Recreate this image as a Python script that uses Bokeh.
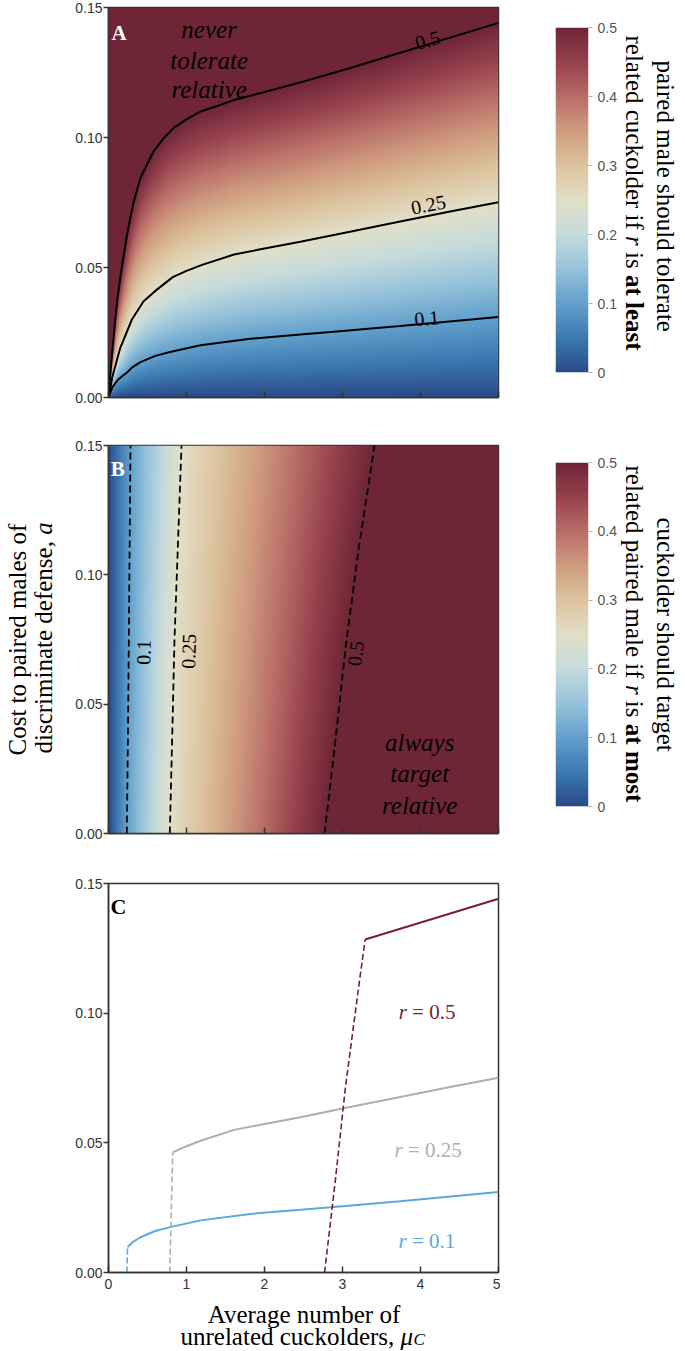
import numpy as np
from bokeh.plotting import figure
from bokeh.layouts import row, column
from bokeh.models import Range1d, LinearColorMapper, FixedTicker, NumeralTickFormatter
from bokeh.core.properties import value
from bokeh.embed import file_html
from bokeh.resources import INLINE

# ---------------- data ----------------
X_TICKS = [0, 1, 2, 3, 4, 5]
Y_TICKS = [0.0, 0.05, 0.10, 0.15]
CB_TICKS = [0, 0.1, 0.2, 0.3, 0.4, 0.5]
LEVELS = [0.1, 0.25, 0.5]

# Panel A: cost a on each contour (r = 0.1, 0.25, 0.5) against mu
A_MU_R01 = [0, 0.05, 0.12, 0.244, 0.3, 0.41, 0.6, 0.79, 1.18, 1.82, 2.46, 2.85, 3.74, 5.0]
A_A_R01 = [0, 0.004, 0.0068, 0.0098, 0.0115, 0.0136, 0.016, 0.0175, 0.0201, 0.0226, 0.0242, 0.0252, 0.0275, 0.031]
A_MU_R025 = [0, 0.05, 0.15, 0.3, 0.45, 0.6, 0.824, 1.0, 1.2, 1.61, 2.0, 2.46, 3.0, 3.74, 4.38, 5.0]
A_A_R025 = [0, 0.008, 0.019, 0.03, 0.037, 0.041, 0.0463, 0.0487, 0.051, 0.055, 0.0573, 0.0599, 0.0632, 0.0677, 0.0715, 0.0751]
A_MU_R05 = [0, 0.02, 0.05, 0.08, 0.11, 0.16, 0.24, 0.32, 0.41, 0.5, 0.58, 0.7, 0.84, 1.0, 1.18,
            1.4, 1.6, 2.0, 2.46, 3.1, 3.74, 4.38, 5.0]
A_A_R05 = [0, 0.008, 0.018, 0.028, 0.037, 0.048, 0.063, 0.075, 0.0845, 0.090, 0.0948, 0.0995, 0.1038, 0.107, 0.110,
           0.1122, 0.1143, 0.1175, 0.1212, 0.1267, 0.1326, 0.1384, 0.1441]

# Panel B: mu on each contour against a
B_A_R01 = [0, 0.046, 0.15]
B_MU_R01 = [0.235, 0.252, 0.282]
B_A_R025 = [0, 0.0463, 0.075, 0.15]
B_MU_R025 = [0.786, 0.824, 0.846, 0.936]
B_A_R05 = [0, 0.036, 0.072, 0.1107, 0.15]
B_MU_R05 = [2.77, 2.91, 3.04, 3.21, 3.41]

# Panel C lines
C_R01_SOLID_MU = [0.244, 0.3, 0.41, 0.6, 0.79, 1.18, 1.82, 2.46, 2.85, 3.74, 5.0]
C_R01_SOLID_A = [0.0098, 0.0115, 0.0136, 0.016, 0.0175, 0.0201, 0.0226, 0.0242, 0.0252, 0.0275, 0.031]
C_R01_DASH_MU = [0.235, 0.244]
C_R01_DASH_A = [0.0, 0.0098]
C_R025_SOLID_MU = [0.824, 1.0, 1.2, 1.61, 2.0, 2.46, 3.0, 3.74, 4.38, 5.0]
C_R025_SOLID_A = [0.0463, 0.0487, 0.051, 0.055, 0.0573, 0.0599, 0.0632, 0.0677, 0.0715, 0.0751]
C_R025_DASH_MU = [0.785, 0.824]
C_R025_DASH_A = [0.0, 0.0463]
C_R05_SOLID_MU = [3.29, 5.0]
C_R05_SOLID_A = [0.1284, 0.1441]
C_R05_DASH_MU = [2.77, 2.91, 3.04, 3.21, 3.29]
C_R05_DASH_A = [0.0, 0.036, 0.072, 0.1107, 0.1284]

# ---------------- styles ----------------
SERIF = "Liberation Serif"
SANS = "Liberation Sans"
AXC = "#333333"
CMAP_STOPS = [0, .05, .1, .15, .2, .25, .3, .35, .4, .45, .5]
CMAP_COLORS = ["#2a4a86", "#3d7ab3", "#62a0cc", "#96c3da", "#c5dbdc", "#e2dfc8",
               "#dcc39e", "#cf9c80", "#b86d67", "#97414e", "#6e2637"]
RED, GRAY, BLUE = "#7b1e30", "#b4aca5", "#5ea9d7"


def build_palette(n=256):
    rgb = np.array([[int(c[i:i + 2], 16) for i in (1, 3, 5)] for c in CMAP_COLORS], float)
    cols = []
    for v in np.linspace(0, 0.5, n):
        r, g, b = (np.interp(v, CMAP_STOPS, rgb[:, k]) for k in range(3))
        cols.append("#%02x%02x%02x" % (int(round(r)), int(round(g)), int(round(b))))
    return cols


mapper = LinearColorMapper(palette=build_palette(), low=0, high=0.5)

# colour fields rendered from the contour readings
N = 390
mu_c = (np.arange(N) + 0.5) * 5 / N
a_c = (np.arange(N) + 0.5) * 0.15 / N
fieldA = np.empty((N, N))
for i, m in enumerate(mu_c):
    a1 = np.interp(m, A_MU_R01, A_A_R01)
    a2 = np.interp(m, A_MU_R025, A_A_R025)
    a3 = np.interp(m, A_MU_R05, A_A_R05)
    fieldA[:, i] = np.interp(a_c, [0, a1, a2, a3], [0] + LEVELS)
fieldB = np.empty((N, N))
for j, a in enumerate(a_c):
    m1 = np.interp(a, B_A_R01, B_MU_R01)
    m2 = np.interp(a, B_A_R025, B_MU_R025)
    m3 = np.interp(a, B_A_R05, B_MU_R05)
    fieldB[j, :] = np.interp(mu_c, [0, m1, m2, m3], [0] + LEVELS)
CB_GRAD = np.linspace(0, 0.5, 256).reshape(256, 1)


def txt(p, x, y, s, size, style="normal", color="black", align="left",
        baseline="alphabetic", angle=0.0, font=SERIF, x_off=0):
    p.text(x=[x], y=[y], text=[s], text_font=value(font), text_font_size=value(size),
           text_font_style=style, text_color=color, text_align=align,
           text_baseline=baseline, angle=angle, x_offset=x_off)


def main_fig(width, height, bl, bt, bb, xlabels):
    p = figure(width=width, height=height, x_range=Range1d(0, 5), y_range=Range1d(0, 0.15),
               output_backend="svg", toolbar_location=None, title=None, frame_align=False,
               min_border_left=bl, min_border_right=2, min_border_top=bt, min_border_bottom=bb)
    p.grid.visible = False
    p.outline_line_color = AXC
    p.outline_line_width = 1.5
    xa = p.xaxis[0]
    xa.ticker = FixedTicker(ticks=X_TICKS)
    xa.major_tick_in = 6
    xa.major_tick_out = 0
    xa.minor_tick_line_color = None
    xa.axis_line_color = AXC
    xa.axis_line_width = 1.5
    xa.major_tick_line_color = AXC
    xa.major_tick_line_width = 1.5
    xa.major_label_text_font = SANS
    xa.major_label_text_font_size = "14px"
    if xlabels:
        xa.major_label_text_color = AXC
        xa.major_label_standoff = 6
    else:
        xa.major_label_text_color = None
        xa.major_label_standoff = 0
    ya = p.yaxis[0]
    ya.ticker = FixedTicker(ticks=Y_TICKS)
    ya.formatter = NumeralTickFormatter(format="0.00")
    ya.major_tick_in = 0
    ya.major_tick_out = 5
    ya.minor_tick_line_color = None
    ya.axis_line_color = AXC
    ya.axis_line_width = 1.5
    ya.major_tick_line_color = AXC
    ya.major_tick_line_width = 1.5
    ya.major_label_text_font = SANS
    ya.major_label_text_font_size = "14px"
    ya.major_label_text_color = AXC
    ya.major_label_standoff = 1
    return p


def cb_fig(height, bt, frame_h):
    p = figure(width=119, height=height, x_range=Range1d(0, 1), y_range=Range1d(0, 0.5),
               output_backend="svg", toolbar_location=None, title=None, frame_align=False,
               y_axis_location="right", x_axis_type=None, min_border_left=55,
               min_border_right=30, min_border_top=bt, min_border_bottom=height - bt - frame_h)
    p.grid.visible = False
    p.outline_line_color = None
    p.image(image=[CB_GRAD], x=0, y=0, dw=1, dh=0.5, color_mapper=mapper)
    ya = p.yaxis[0]
    ya.ticker = FixedTicker(ticks=CB_TICKS)
    ya.major_label_overrides = {0: "0"}
    ya.axis_line_color = None
    ya.major_tick_in = 0
    ya.major_tick_out = 4
    ya.major_tick_line_color = "#b0b0b0"
    ya.minor_tick_line_color = None
    ya.major_label_text_font = SANS
    ya.major_label_text_font_size = "14px"
    ya.major_label_text_color = "#555555"
    ya.major_label_standoff = 5
    return p


def blank_fig(width, height, x0, y_top):
    # data units = page pixels (y negated), frame fills the whole figure
    p = figure(width=width, height=height, x_range=Range1d(x0, x0 + width),
               y_range=Range1d(-(y_top + height), -y_top), output_backend="svg",
               toolbar_location=None, title=None, frame_align=False,
               x_axis_type=None, y_axis_type=None,
               min_border=0, min_border_left=0, min_border_right=0,
               min_border_top=0, min_border_bottom=0)
    p.grid.visible = False
    p.outline_line_color = None
    return p


# ---------------- Row A (page y 0..420) ----------------
pA = main_fig(500, 420, 108, 7, 23, False)
pA.image(image=[fieldA], x=0, y=0, dw=5, dh=0.15, color_mapper=mapper)
for mu, aa in ((A_MU_R01, A_A_R01), (A_MU_R025, A_A_R025), (A_MU_R05, A_A_R05)):
    pA.line(mu, aa, line_color="black", line_width=2)
txt(pA, 0.04, 0.1402, "A", "21px", style="bold", color="white")
for s, yy in (("never", 0.1417), ("tolerate", 0.1298), ("relative", 0.1183)):
    txt(pA, 1.29, yy, s, "25px", style="italic", align="center")
txt(pA, 4.09, 0.1375, "0.5", "20px", align="center", angle=0.26)
txt(pA, 4.10, 0.0742, "0.25", "20px", align="center", angle=0.19)
txt(pA, 4.08, 0.0305, "0.1", "20px", align="center", angle=0.09)

cbA = cb_fig(420, 27, 345)

tA = blank_fig(66, 420, 619, 0)
txt(tA, 665, -60, "paired male should tolerate", "25px", angle=-np.pi / 2)
txt(tA, 634, -35, "related cuckolder if", "25px", angle=-np.pi / 2)
txt(tA, 634, -235.6, "r", "25px", style="italic", angle=-np.pi / 2)
txt(tA, 634, -251.5, "is", "25px", angle=-np.pi / 2)
txt(tA, 634, -274.5, "at least", "25px", style="bold", angle=-np.pi / 2)

rowA = row(pA, cbA, tA)

# ---------------- Row B (page y 420..858) ----------------
lB = blank_fig(60, 438, 0, 420)
txt(lB, 17, -755, "Cost to paired males of", "25px", angle=np.pi / 2)
txt(lB, 43, -753, "discriminate defense,", "25px", angle=np.pi / 2)
txt(lB, 43, -534.3, "a", "25px", style="italic", angle=np.pi / 2)

pB = main_fig(440, 438, 48, 25, 25, False)
pB.image(image=[fieldB], x=0, y=0, dw=5, dh=0.15, color_mapper=mapper)
for mu, aa in ((B_MU_R01, B_A_R01), (B_MU_R025, B_A_R025), (B_MU_R05, B_A_R05)):
    pB.line(mu, aa, line_color="black", line_width=1.8, line_dash="7 4")
txt(pB, 0.03, 0.1411, "B", "21px", style="bold", color="white")
txt(pB, 0.449, 0.0700, "0.1", "20px", align="center", baseline="middle", angle=1.545)
txt(pB, 1.026, 0.0705, "0.25", "20px", align="center", baseline="middle", angle=1.535)
txt(pB, 3.167, 0.0696, "0.5", "20px", align="center", baseline="middle", angle=1.45)
for s, yy in (("always", 0.0353), ("target", 0.0231), ("relative", 0.0108)):
    txt(pB, 3.99, yy, s, "25px", style="italic", align="center")

cbB = cb_fig(438, 42, 344)

tB = blank_fig(66, 438, 619, 420)
txt(tB, 665, -517, "cuckolder should target", "25px", angle=-np.pi / 2)
txt(tB, 634, -465, "related paired male if", "25px", angle=-np.pi / 2)
txt(tB, 634, -684.4, "r", "25px", style="italic", angle=-np.pi / 2)
txt(tB, 634, -700.3, "is", "25px", angle=-np.pi / 2)
txt(tB, 634, -723.3, "at most", "25px", style="bold", angle=-np.pi / 2)

rowB = row(lB, pB, cbB, tB)

# ---------------- Panel C (page y 858..1300) ----------------
pC = main_fig(500, 442, 108, 25, 28, True)
pC.line(C_R01_SOLID_MU, C_R01_SOLID_A, line_color=BLUE, line_width=2)
pC.line(C_R01_DASH_MU, C_R01_DASH_A, line_color=BLUE, line_width=1.6, line_dash="6 3")
pC.line(C_R025_SOLID_MU, C_R025_SOLID_A, line_color=GRAY, line_width=2)
pC.line(C_R025_DASH_MU, C_R025_DASH_A, line_color=GRAY, line_width=1.6, line_dash="6 3")
pC.line(C_R05_SOLID_MU, C_R05_SOLID_A, line_color=RED, line_width=2)
pC.line(C_R05_DASH_MU, C_R05_DASH_A, line_color=RED, line_width=1.6, line_dash="6 3")
txt(pC, 0.026, 0.1411, "C", "22px", style="bold")
for x0, y0, lab, col in ((3.72, 0.1004, "= 0.5", RED), (3.667, 0.0474, "= 0.25", GRAY),
                         (3.718, 0.0121, "= 0.1", BLUE)):
    txt(pC, x0, y0, "r", "21px", style="italic", color=col)
    txt(pC, x0, y0, lab, "21px", color=col, x_off=13.4)

# x-axis title (page y 1300..1351)
xt = blank_fig(500, 51, 0, 1300)
txt(xt, 303.5, -1314, "Average number of", "25px", align="center")
txt(xt, 180, -1336, "unrelated cuckolders,", "25px")
txt(xt, 400, -1336, "μ", "25px", style="italic")
txt(xt, 413, -1339, "C", "17px", style="italic")

root = column(rowA, rowB, pC, xt)

open("out.html", "w").write(file_html(root, INLINE))
